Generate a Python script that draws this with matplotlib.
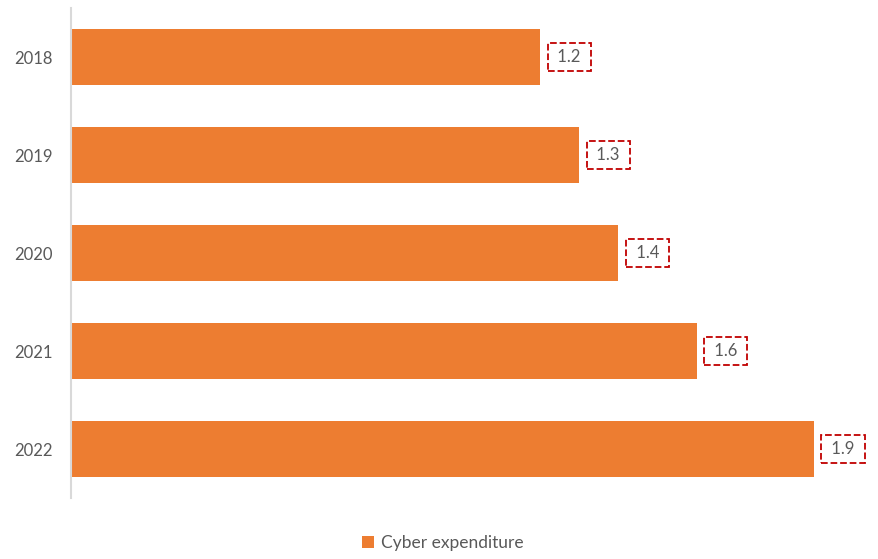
import matplotlib.pyplot as plt

years = ['2018', '2019', '2020', '2021', '2022']
spend = [1.2, 1.3, 1.4, 1.6, 1.9]

plt.rcParams['font.family'] = ['Lato', 'DejaVu Sans']

fig = plt.figure(figsize=(8.79, 5.59), dpi=100)
ax = fig.add_axes([71 / 879, 1 - 498 / 559, 782 / 879, 490 / 559])

bars = ax.barh(years, spend, height=0.57, color='#ED7D31', label='Cyber expenditure')
ax.set_xlim(0, 2.0)
ax.set_ylim(4.5, -0.5)

# value labels in dashed boxes just right of each bar
for b, v in zip(bars, spend):
    ax.annotate(' %.1f ' % v, (b.get_width(), b.get_y() + b.get_height() / 2),
                xytext=(9.5, 0), textcoords='offset points',
                va='center', ha='left', fontsize=12, color='#595959',
                annotation_clip=False,
                bbox=dict(boxstyle='square,pad=0.35', fc='white', ec='#C00000',
                          ls='--', lw=1.3))

for s in ['top', 'right', 'bottom']:
    ax.spines[s].set_visible(False)
ax.spines['left'].set_color('#D9D9D9')
ax.spines['left'].set_linewidth(1.5)
ax.set_xticks([])
ax.tick_params(axis='y', length=0, pad=13, labelsize=12, labelcolor='#595959')

fig.legend(handles=[bars], labels=['Cyber expenditure'], loc='center',
           bbox_to_anchor=(443 / 879, 1 - 543 / 559), frameon=False,
           fontsize=12.5, labelcolor='#595959', handlelength=0.7, handleheight=0.7,
           handletextpad=0.4)

fig.savefig('out.png', dpi=100)
